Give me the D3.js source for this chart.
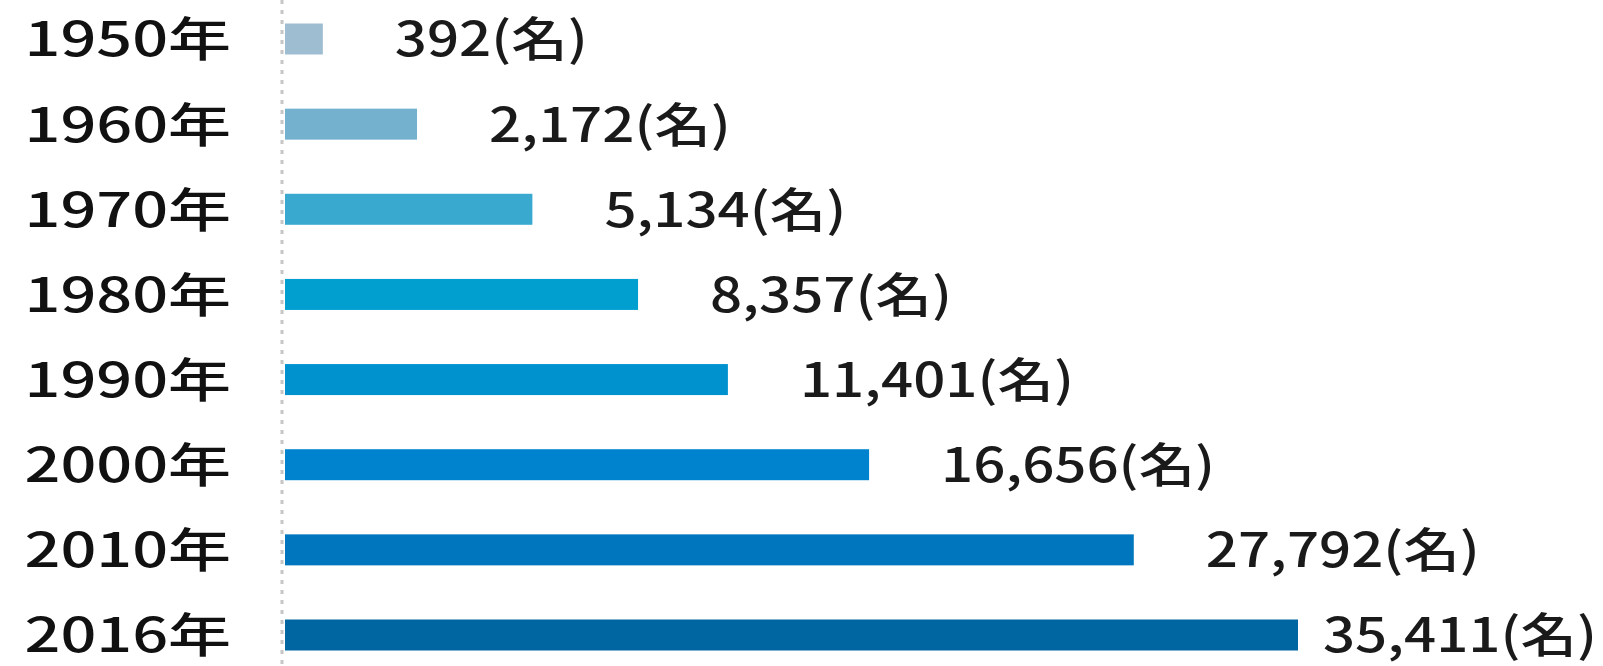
<!DOCTYPE html>
<html lang="ja">
<head>
<meta charset="utf-8">
<title>D3: horizontal bars by year</title>
<script src="https://cdn.jsdelivr.net/npm/d3@7"></script>
<style>
  html, body { margin: 0; padding: 0; background: #ffffff; }
  text { font-family: "Noto Sans CJK JP", "Noto Sans", sans-serif; }
</style>
</head>
<body>
<script>

// data
var years = ["1950年", "1960年", "1970年", "1980年", "1990年", "2000年", "2010年", "2016年"];
var values = [392, 2172, 5134, 8357, 11401, 16656, 27792, 35411];
var unit = "(名)";

// palette, light to dark
var barColors = ["#9fbdd1", "#74b1cf", "#3aa9d0", "#009fd0", "#0092cf", "#0083cf", "#0076be", "#0066a1"];

var w = 1603;
var h = 666;
var left = 285;       // where bars start
var barH = 31;
var fs = 47;          // label font size

var svg = d3.select("body")
            .append("svg")
            .attr("width", w)
            .attr("height", h);

// bar lengths in the picture grow less than linearly, a power scale fits them
var xScale = d3.scalePow()
               .exponent(0.73)
               .domain([0, d3.max(values)])
               .range([left, 1298]);

var yScale = d3.scalePoint()
               .domain(years)
               .range([39, 635]);

var color = d3.scaleOrdinal()
              .domain(years)
              .range(barColors);

var rows = years.map(function(y, i) { return { year: y, value: values[i] }; });

// dotted baseline
svg.append("line")
   .attr("x1", xScale(0) - 3)
   .attr("x2", xScale(0) - 3)
   .attr("y1", 0)
   .attr("y2", h)
   .attr("stroke", "#c6c6c6")
   .attr("stroke-width", 3)
   .attr("stroke-dasharray", "4,6");

// bars
svg.selectAll("rect.bar")
   .data(rows)
   .enter()
   .append("rect")
   .attr("class", "bar")
   .attr("x", xScale(0))
   .attr("y", function(d) { return yScale(d.year) - barH / 2; })
   .attr("width", function(d) { return xScale(d.value) - xScale(0); })
   .attr("height", barH)
   .attr("fill", function(d) { return color(d.year); });

// year labels, the source font is drawn wide
svg.selectAll("g.year")
   .data(rows)
   .enter()
   .append("g")
   .attr("class", "year")
   .attr("transform", function(d) {
       return "translate(231," + yScale(d.year) + ") scale(1.34,1)";
   })
   .append("text")
   .attr("text-anchor", "end")
   .attr("dy", "0.37em")
   .attr("font-size", fs + "px")
   .attr("font-weight", 500)
   .attr("fill", "#111")
   .text(function(d) { return d.year; });

// value labels
var fmt = d3.format(",");
var gap = 72;
var sx = 1.2;

var vals = svg.selectAll("g.val")
   .data(rows)
   .enter()
   .append("g")
   .attr("class", "val");

vals.append("text")
    .attr("dy", "0.37em")
    .attr("font-size", fs + "px")
    .attr("font-weight", 500)
    .attr("fill", "#1a1a1a")
    .text(function(d) { return fmt(d.value) + unit; });

vals.attr("transform", function(d) {
    var tw = this.querySelector("text").getComputedTextLength() * sx;
    var x = Math.min(xScale(d.value) + gap, w - 6 - tw);   // keep the last label inside
    return "translate(" + x + "," + yScale(d.year) + ") scale(" + sx + ",1)";
});

</script>
</body>
</html>
